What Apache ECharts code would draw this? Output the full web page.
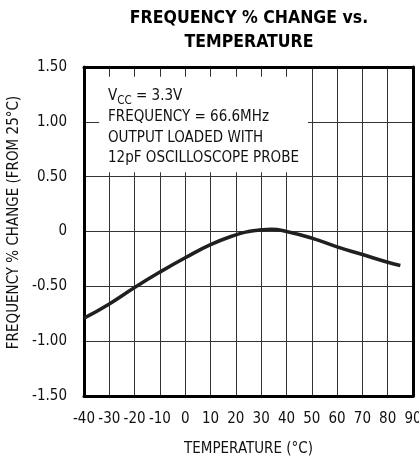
<!DOCTYPE html>
<html><head><meta charset="utf-8">
<script src="https://cdn.jsdelivr.net/npm/echarts@6/dist/echarts.min.js"></script>
<style>html,body{margin:0;padding:0;background:#fff}#c{width:419px;height:457px}</style>
</head><body><div id="c"></div>
<script>
var temperature = [-40, -30, -20, -10, 0, 10, 20, 25, 30, 34, 40, 50, 60, 70, 80, 85];
var freqChange = [-0.79, -0.66, -0.51, -0.37, -0.24, -0.12, -0.03, 0.0, 0.015, 0.02, 0.0, -0.06, -0.14, -0.21, -0.28, -0.31];
var yTickLabels = {'1.5':'1.50','1':'1.00','0.5':'0.50','0':'0','-0.5':'-0.50','-1':'-1.00','-1.5':'-1.50'};
var titleLines = ['FREQUENCY % CHANGE vs.', 'TEMPERATURE'];
var noteLines = ['FREQUENCY = 66.6MHz', 'OUTPUT LOADED WITH', '12pF OSCILLOSCOPE PROBE'];

var FONT = "'Liberation Sans Narrow','DejaVu Sans Condensed','Liberation Sans',sans-serif";
var chart = echarts.init(document.getElementById('c'));
var pts = temperature.map(function(t,i){return [t, freqChange[i]];});
var borderAxis = {show:true, onZero:false, lineStyle:{color:'#000', width:3}};
chart.setOption({
  animation:false,
  grid:{left:84, right:6, top:67, bottom:61, outerBoundsMode:'none', containLabel:false},
  xAxis:[{type:'value', min:-40, max:90, interval:10,
    axisLine:borderAxis, axisTick:{show:false},
    splitLine:{show:true, lineStyle:{color:'#333', width:1}},
    axisLabel:{fontFamily:FONT, fontSize:15, color:'#111', margin:16},
    name:'TEMPERATURE (°C)', nameLocation:'middle', nameGap:46,
    nameTextStyle:{fontFamily:FONT, fontSize:15, color:'#111'}},
    {type:'value', position:'top', min:-40, max:90, interval:10, axisLine:borderAxis,
     axisTick:{show:false}, axisLabel:{show:false}, splitLine:{show:false}}],
  yAxis:[{type:'value', min:-1.5, max:1.5, interval:0.5,
    axisLine:borderAxis, axisTick:{show:false},
    splitLine:{show:true, lineStyle:{color:'#333', width:1}},
    axisLabel:{fontFamily:FONT, fontSize:15, color:'#111', margin:17,
      formatter:function(v){var k=String(Math.round(v*10)/10); return yTickLabels[k]!==undefined?yTickLabels[k]:k;}},
    name:'FREQUENCY % CHANGE (FROM 25°C)', nameLocation:'middle', nameGap:62,
    nameTextStyle:{fontFamily:FONT, fontSize:15, color:'#111', padding:[0,0,0,18]}},
    {type:'value', position:'right', min:-1.5, max:1.5, interval:0.5, axisLine:borderAxis,
     axisTick:{show:false}, axisLabel:{show:false}, splitLine:{show:false}}],
  series:[{type:'line', data:pts, smooth:0.5, showSymbol:false,
    lineStyle:{color:'#231f20', width:3.5},
    markArea:{silent:true, itemStyle:{color:'#fff'},
      data:[[{coord:[-34, 1.41]},{coord:[48.5, 0.54]}]]}}],
  graphic:[
    {type:'text', x:249, y:6, z:100, style:{text:titleLines.join('\n'), align:'center',
      fontFamily:"'DejaVu Sans Condensed','Liberation Sans Narrow',sans-serif", fontWeight:'bold',
      fontSize:17.5, lineHeight:24, fill:'#000'}},
    {type:'text', x:108, y:86, z:100, style:{
      text:'{a|V}{s|CC}{a| = 3.3V}\n{a|'+noteLines.join('}\n{a|')+'}',
      rich:{a:{fontFamily:FONT, fontSize:15, lineHeight:20.7, fill:'#111'},
            s:{fontFamily:FONT, fontSize:11.5, lineHeight:20.7, fill:'#111', verticalAlign:'bottom', padding:[6,0,0,0]}}}}]
});
</script></body></html>
